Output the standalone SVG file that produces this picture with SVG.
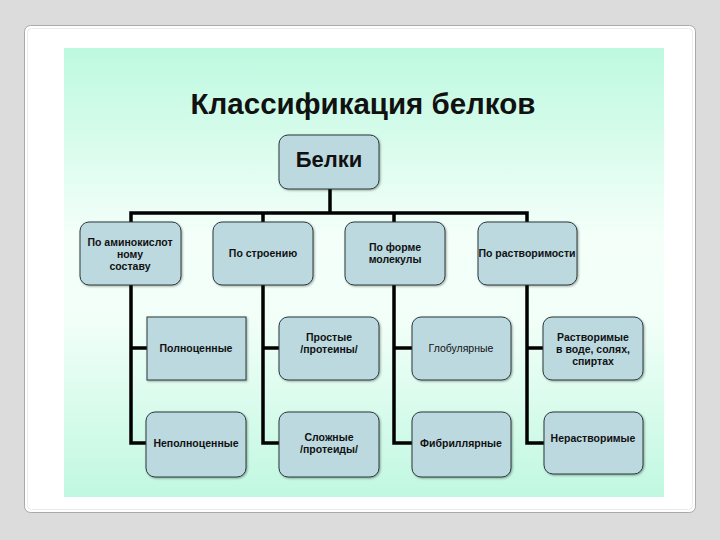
<svg xmlns="http://www.w3.org/2000/svg" width="720" height="540" viewBox="0 0 720 540">
<defs>
<linearGradient id="bg" x1="0" y1="0" x2="0" y2="1">
<stop offset="0" stop-color="#bdf9df"/>
<stop offset="0.42" stop-color="#f4fffa"/>
<stop offset="0.6" stop-color="#f2fff9"/>
<stop offset="1" stop-color="#c0f8e0"/>
</linearGradient>
<filter id="sh" x="-10%" y="-10%" width="130%" height="130%">
<feDropShadow dx="1" dy="1" stdDeviation="0.8" flood-color="#000" flood-opacity="0.35"/>
</filter>
</defs>
<style>
.node{fill:#bcd9e0;stroke:#2a3a3a;stroke-width:1;filter:url(#sh)}
.t{font-family:"Liberation Sans",Arial,sans-serif;font-size:10.5px;font-weight:bold;fill:#111;text-anchor:middle}
.conn{fill:none;stroke:#000;stroke-width:3.5;stroke-linejoin:miter}
</style>
<rect x="0" y="0" width="720" height="540" fill="#dcdcdc"/>
<rect x="24.5" y="25.5" width="671" height="487" rx="6" fill="#fff" stroke="#a9a9a9"/>
<rect x="27.5" y="28.5" width="665" height="481" rx="4" fill="none" stroke="#ececec"/>
<rect x="64" y="48" width="600" height="449" fill="url(#bg)"/>
<text x="363" y="114" style="font-family:'Liberation Sans',Arial,sans-serif;font-size:29.5px;font-weight:bold;fill:#111;text-anchor:middle">Классификация белков</text>
<g id="connectors">
<path class="conn" d="M330 189 V213"/>
<path class="conn" d="M131 222 V213 H527 V222"/>
<path class="conn" d="M263 213 V222 M394 213 V222"/>
<path class="conn" d="M131 285 V443 H146 M131 348 H147"/>
<path class="conn" d="M263 285 V443 H279 M263 348 H279"/>
<path class="conn" d="M394 285 V443 H412 M394 348 H412"/>
<path class="conn" d="M527 285 V443 H544 M527 348 H543"/>
</g>
<g id="n-belki"><rect class="node" x="279" y="135" width="100" height="54" rx="9"/><text class="t" x="329" y="167" style="font-size:22px">Белки</text></g>
<g id="n-amino"><rect class="node" x="80" y="222" width="101" height="63" rx="9"/><text class="t" x="130" y="246">По аминокислот</text><text class="t" x="130" y="258">ному</text><text class="t" x="130" y="270">составу</text></g>
<g id="n-stroenie"><rect class="node" x="213" y="222" width="100" height="63" rx="9"/><text class="t" x="263" y="257">По строению</text></g>
<g id="n-forma"><rect class="node" x="345" y="222" width="100" height="63" rx="9"/><text class="t" x="395" y="251">По форме</text><text class="t" x="395" y="263">молекулы</text></g>
<g id="n-rastvor"><rect class="node" x="478" y="222" width="99" height="63" rx="9"/><text class="t" x="527" y="257">По растворимости</text></g>
<g id="n-polno"><rect class="node" x="147" y="317" width="99" height="63"/><text class="t" x="196" y="352">Полноценные</text></g>
<g id="n-prostye"><rect class="node" x="279" y="317" width="100" height="63" rx="9"/><text class="t" x="329" y="341">Простые</text><text class="t" x="329" y="353">/протеины/</text></g>
<g id="n-globul"><rect class="node" x="412" y="317" width="99" height="63" rx="9"/><text class="t" x="461" y="352" style="font-weight:normal">Глобулярные</text></g>
<g id="n-rastvorimye"><rect class="node" x="543" y="317" width="100" height="63" rx="9"/><text class="t" x="593" y="341">Растворимые</text><text class="t" x="593" y="353">в воде, солях,</text><text class="t" x="593" y="365">спиртах</text></g>
<g id="n-nepolno"><rect class="node" x="146" y="412" width="100" height="65" rx="9"/><text class="t" x="196" y="447">Неполноценные</text></g>
<g id="n-slozhnye"><rect class="node" x="279" y="412" width="100" height="65" rx="9"/><text class="t" x="329" y="441">Сложные</text><text class="t" x="329" y="453">/протеиды/</text></g>
<g id="n-fibril"><rect class="node" x="412" y="412" width="99" height="65" rx="9"/><text class="t" x="461" y="447">Фибриллярные</text></g>
<g id="n-nerastvor"><rect class="node" x="544" y="412" width="99" height="62" rx="9"/><text class="t" x="593" y="442">Нерастворимые</text></g>
</svg>
